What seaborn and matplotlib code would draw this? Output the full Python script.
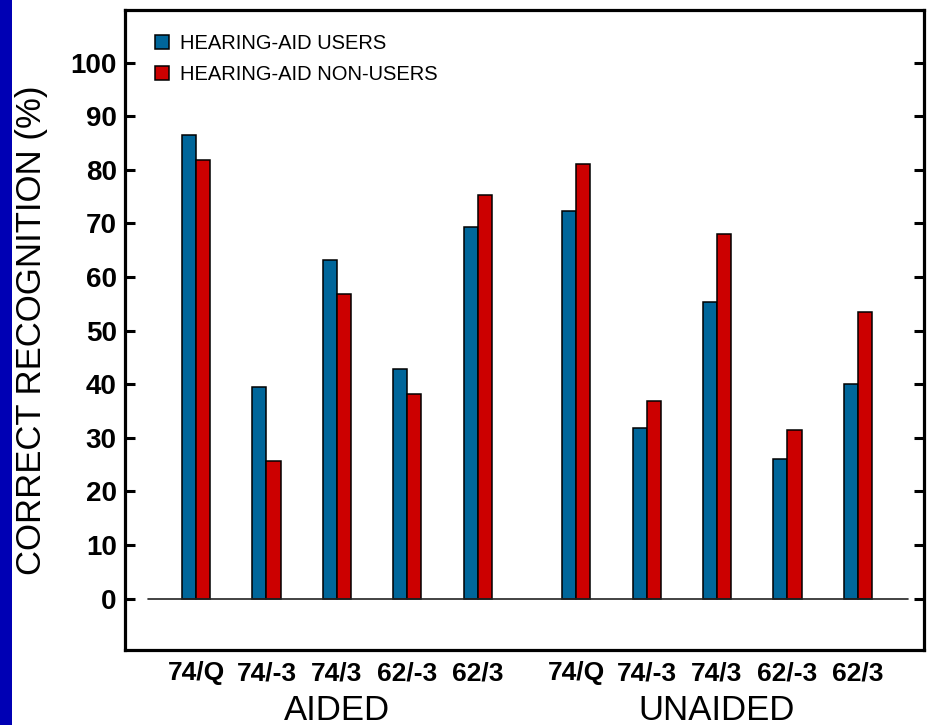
import matplotlib
matplotlib.use("Agg")
import matplotlib.pyplot as plt
import matplotlib.transforms as mtransforms
from matplotlib.patches import Rectangle
import numpy as np
import pandas as pd
import seaborn as sns

# Test conditions, shown once under each listening mode
conditions = ["74/Q", "74/-3", "74/3", "62/-3", "62/3"]
modes = ["AIDED", "UNAIDED"]

# Correct recognition (%) per condition
users_aided = [86.5, 39.4, 63.1, 42.8, 69.3]
nonusers_aided = [81.8, 25.7, 56.9, 38.2, 75.2]
users_unaided = [72.3, 31.9, 55.3, 26.0, 40.1]
nonusers_unaided = [81.0, 36.8, 68.1, 31.4, 53.5]

series_names = ["HEARING-AID USERS", "HEARING-AID NON-USERS"]
y_ticks = list(range(0, 101, 10))

# Conditions sit one unit apart; the second mode block starts after a wider gap
block_gap = 1.4
aided_pos = np.arange(len(conditions), dtype=float)
unaided_pos = aided_pos + aided_pos[-1] + block_gap
positions = np.concatenate([aided_pos, unaided_pos])

df = pd.DataFrame({
    "pos": np.concatenate([positions, positions]),
    "value": users_aided + users_unaided + nonusers_aided + nonusers_unaided,
    "group": [series_names[0]] * 10 + [series_names[1]] * 10,
})

sns.set_style("white")
plt.rcParams["font.family"] = ["Liberation Sans", "DejaVu Sans"]
plt.rcParams.update({
    "text.color": "black",
    "axes.labelcolor": "black",
    "xtick.color": "black",
    "ytick.color": "black",
})

fig = plt.figure(figsize=(9.28, 7.25), dpi=100, facecolor="white")
ax = fig.add_axes([125 / 928, 1 - 650 / 725, 799 / 928, 640 / 725])

blue = "#00669a"
red = "#cc0000"
sns.barplot(data=df, x="pos", y="value", hue="group", hue_order=series_names,
            native_scale=True, width=0.4, palette=[blue, red],
            edgecolor="black", linewidth=1.1, saturation=1, ax=ax)

ax.set_xlim(-1.01, 10.34)
ax.set_ylim(-9.6, 109.8)

# baseline at zero
ax.axhline(0, xmin=0.029, xmax=0.98, color="#222222", lw=1.2, zorder=1)

ax.set_xticks(positions)
ax.set_xticklabels(conditions + conditions, fontsize=19, fontweight="bold")
ax.set_yticks(y_ticks)
ax.set_yticklabels([str(t) for t in y_ticks], fontsize=20, fontweight="bold")
ax.tick_params(axis="x", length=0, pad=8)
ax.tick_params(axis="y", direction="in", length=7.5, width=2.2, pad=6,
               left=True, right=True, color="black")
for s in ax.spines.values():
    s.set_visible(True)
    s.set_linewidth(2.3)
    s.set_color("black")

ax.set_xlabel("")
ax.set_ylabel("CORRECT RECOGNITION (%)", fontsize=25)
ax.yaxis.label.set_va("center")
ax.yaxis.set_label_coords(-0.117, 0.5)

trans = mtransforms.blended_transform_factory(ax.transData, ax.transAxes)
ax.text(aided_pos.mean(), -0.094, modes[0], transform=trans, ha="center",
        va="center", fontsize=25)
ax.text(unaided_pos.mean(), -0.094, modes[1], transform=trans, ha="center",
        va="center", fontsize=25)

handles, labels = ax.get_legend_handles_labels()
ax.legend(handles, labels, loc="upper left", bbox_to_anchor=(0.028, 0.975),
          frameon=False, fontsize=14.5, handlelength=0.65, handleheight=0.65,
          handletextpad=0.55, labelspacing=0.6, borderaxespad=0)

# blue strip at the left edge of the slide
fig.patches.append(Rectangle((0, 0), 12 / 928, 1, transform=fig.transFigure,
                             facecolor="#0000b4", edgecolor="none", zorder=0))

fig.savefig("out.png", dpi=100, facecolor="white")
